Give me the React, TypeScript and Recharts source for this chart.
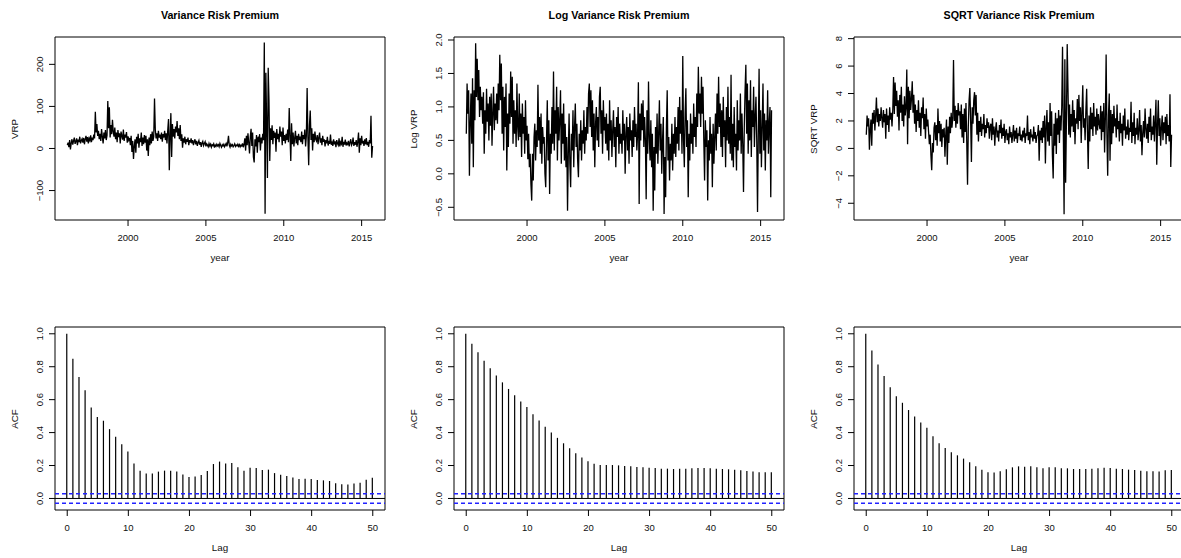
import React from 'react';
import {
  LineChart,
  Line,
  ComposedChart,
  Bar,
  XAxis,
  YAxis,
  ReferenceArea,
  ReferenceLine,
} from 'recharts';

const FONT = '"Liberation Sans", Arial, Helvetica, sans-serif';

// time axis of the series: first observation and spacing (years)
const START_YEAR = 1996.1;
const STEP_YEARS = 0.05;

// Variance Risk Premium (one row per year, 20 obs per year)
const vrpValues = [
  8, 14, 3, 20, -2, 12, 22, 9, 18, 26, 11, 17, 24, 8, 21, 15, 28, 12, 19, 23,
  14, 25, 10, 22, 30, 16, 27, 12, 24, 19, 31, 15, 26, 20, 33, 24, 87, 38, 58, 30,
  42, 22, 35, 18, 46, 28, 12, 38, 24, 44, 20, 31, 113, 48, 98, 26, 56, 34, 68, 40,
  28, 50, 22, 38, 15, 44, 27, 36, 12, 40, 30, 21, 45, 18, 33, 26, 39, 14, 29, 20,
  25, 8, 30, -8, 18, -25, 5, 22, -10, 28, 12, 35, 2, 24, 15, 38, 6, 26, 10, 32,
  14, 30, -5, 22, -18, 26, 8, 34, 12, 40, 18, 28, 119, 45, 24, 36, 18, 42, 26, 33,
  22, 38, 16, 34, 26, 42, 20, 36, 12, 44, 70, -52, 30, 84, -20, 58, 28, 46, 24, 52,
  38, 65, 30, 48, 22, 56, 18, 34, 2, 24, 14, 28, 10, 22, 16, 26, 8, 20, 14, 24,
  12, 20, 8, 16, 22, 10, 18, 6, 14, 19, 9, 15, 4, 13, 17, 7, 12, 16, 5, 11,
  8, 4, 12, 6, 10, 3, 9, 7, 11, 2, 8, 5, 10, 6, 9, 4, 12, 7, 3, 9,
  6, 10, 4, 8, 12, 5, 14, 30, 8, 3, 10, 6, 9, 4, 7, 11, 5, 8, 6, 10,
  5, 9, 4, 8, 6, 12, 3, 10, 24, -5, 30, 8, 36, 14, -12, 28, 47, 6, 38, -20,
  -33, 22, 5, 32, -10, 28, 15, 34, -5, 26, 12, 35, 20, 252, -155, 180, 60, -70, 192, 115,
  -30, 48, 20, 55, 10, 42, 25, 38, -8, 46, 22, 35, 15, 52, 28, 40, 8, 50, 18, 32,
  12, 35, 20, 45, 15, 96, 30, -30, 60, 10, 38, 5, 25, 42, 12, 30, 8, 35, 20, 28,
  15, 40, 10, 32, 22, 45, 5, 30, 144, 28, -40, 55, 90, 20, 48, -5, 35, 15, 40, 22,
  18, 32, 10, 26, 38, 14, 24, 8, 30, 16, 22, 5, 20, 12, 28, 7, 18, 11, 33, 9,
  14, 6, 22, 10, 17, 3, 20, 12, 8, 24, 5, 15, 11, 28, 4, 16, 9, 21, 7, 13,
  10, 18, 5, 14, 22, 8, 12, 26, 6, 15, 9, 20, 4, 16, 38, -10, 24, 8, 30, 12,
  18, 6, 22, 10, 25, 8, 16, 4, 20, 12, 78, -22, 6,
];

// Log Variance Risk Premium
const logVrpValues = [
  0.6, 1.35, 0.9, 1.25, -0.03, 0.75, 1.2, 0.45, 1.43, 0.1, 1.25, 0.8, 1.95, 1.15, 1.72, 1.1, 1.55, 0.85, 1.3, 0.95,
  1.15, 0.75, 1.22, 0.3, 0.95, 0.6, 1.27, 0.78, 1.05, 0.5, 1.15, 0.72, 1.2, 0.42, 0.9, 1.3, 0.65, 1.05, 0.8, 1.2,
  0.75, 1.35, 0.95, 1.78, 1.1, 1.65, 0.6, 1.3, 0.35, 1.15, 0.7, 1.35, 0.05, 0.9, 0.4, 1.2, 0.75, 1.53, 0.85, 1.45,
  0.45, 1.1, 0.6, 0.95, 0.4, 1.35, 0.7, 0.5, 1.2, 0.55, 0.9, 0.25, 1.05, 0.6, 0.85, 0.3, 1.1, 0.5, 0.72, 0.22,
  0.6, 0.1, 0.3, -0.15, -0.4, 0.3, -0.1, 0.55, 0.75, 0.2, 0.65, 0.4, 1.33, 0.5, 0.85, 0.3, 0.9, 0.15, 0.7, 0.45,
  0.55, 0.0, -0.2, 0.5, 1.1, 0.2, 0.8, -0.3, 0.6, 0.3, 1.0, 0.45, 1.53, 0.35, 0.95, 0.6, 1.3, 0.2, 1.0, 0.5,
  0.8, 1.25, 0.15, 0.9, 0.45, 1.05, 0.2, 0.75, 0.1, 0.55, -0.55, 0.3, 0.9, 0.15, -0.2, 0.6, 0.35, 0.95, 0.1, 0.7,
  1.05, 0.4, 0.75, 0.2, -0.05, 0.6, 0.35, 0.8, 0.2, 0.65, 0.45, 0.95, 0.3, 0.7, 0.5, 1.0, 0.6, 1.2, 1.35, 0.7,
  1.25, 0.55, 1.1, 0.35, 0.9, 0.1, 0.75, 1.0, 0.5, 0.85, 0.4, 1.15, 1.3, 0.6, 0.95, 0.3, 1.1, 0.65, 0.85, 0.45,
  0.9, 0.35, 0.75, 0.2, 1.1, 0.5, 0.8, 0.25, 0.65, 0.95, 0.4, 0.7, 0.1, 0.85, 0.55, 1.0, 0.3, 0.75, 0.45, 0.6,
  0.3, 0.95, 0.5, 0.75, 0.0, 0.6, 0.85, 0.35, 0.7, 0.15, 0.9, 0.5, 0.65, 0.25, 0.8, 0.4, 1.0, 0.55, 0.75, 0.35,
  0.6, 1.37, -0.45, 0.9, 0.5, 1.05, 0.65, 1.1, 0.4, 0.85, 0.5, -0.38, 0.95, 0.3, 1.38, 0.55, 0.2, 0.8, 0.1, 0.6,
  -0.55, 0.4, -0.25, 0.7, 0.3, 0.9, 0.15, 0.6, 1.1, 0.35, 0.75, 0.0, 0.5, 0.85, -0.6, 0.25, -0.35, 0.7, 1.25, 0.2,
  0.55, -0.1, 0.45, 0.2, 0.75, 0.05, 0.6, 0.3, 0.85, 0.25, 0.7, 0.45, 1.0, 0.35, 1.15, 0.6, 0.95, 0.3, 1.76, 0.5,
  0.1, 0.9, 1.28, 0.4, 0.8, -0.35, 0.6, 0.2, 0.9, 0.45, 0.75, 0.3, 1.05, 0.55, 0.85, 0.4, 1.2, 0.7, 1.6, 0.9,
  1.2, 0.7, 1.45, 0.9, 1.3, 0.5, -0.1, 0.8, 0.4, 0.65, -0.4, 0.5, 0.2, 0.85, 0.3, 0.6, -0.2, 0.75, 0.15, 0.55,
  0.9, 0.35, 1.2, 0.6, 1.45, 0.7, 1.05, 0.4, 0.95, 0.25, 1.15, 0.55, 0.8, 0.1, 1.0, 0.5, 1.3, 0.45, 0.85, 0.3,
  1.48, 0.2, 0.75, 0.1, 1.0, 0.4, 0.6, 0.05, 1.1, 0.35, 0.8, 0.5, 1.2, 0.3, 0.9, 0.45, -0.27, 0.7, 1.25, 1.63,
  0.6, 1.35, 0.3, 1.1, 0.5, 1.4, 0.25, 0.95, 0.7, 1.3, 0.4, 0.85, 1.15, 0.5, -0.57, 0.6, 1.57, 0.3, 0.95, 0.1,
  0.7, 1.35, 0.35, 0.9, 0.05, 0.8, 0.5, 1.25, 0.3, 0.75, 1.0, -0.35, 0.95,
];

// SQRT Variance Risk Premium
const sqrtVrpValues = [
  1.0, 2.4, 1.6, 2.2, -0.1, 1.4, 2.1, 0.2, 2.6, 1.8, 2.8, 1.3, 2.4, 3.7, 1.9, 2.9, 1.6, 2.5, 2.0, 3.0,
  2.2, 1.5, 2.8, 1.9, 2.5, 0.7, 2.9, 1.7, 2.4, 1.2, 3.0, 2.1, 2.6, 1.6, 2.8, 5.2, 2.5, 4.8, 3.1, 4.2,
  2.3, 3.5, 1.3, 3.9, 2.6, 4.5, 2.0, 3.2, 1.6, 3.8, 2.4, 3.0, 5.75, 0.3, 4.5, 2.2, 4.2, 2.8, 3.6, 4.9,
  2.6, 3.9, 1.8, 3.2, 1.2, 2.8, 2.0, 3.5, 1.5, 2.6, 0.9, 3.0, 2.2, 3.7, 1.4, 2.5, 0.7, 2.9, 1.6, 2.1,
  1.2, 0.3, 1.0, -0.5, -1.6, 0.4, -0.3, 1.5, 1.9, 0.6, 1.7, 0.2, 2.9, 1.1, 2.0, 0.5, 1.8, 0.1, 1.4, 0.8,
  1.5, -0.6, 1.0, 2.1, -1.2, 1.6, 0.4, 2.3, 1.1, 2.6, 1.5, 2.2, 6.45, 2.0, 3.1, 1.5, 2.8, 1.8, 3.3, 2.4,
  2.7, 1.4, 3.2, 0.8, 2.5, 0.4, 2.9, 1.2, 3.3, 0.5, -2.65, 1.6, 3.5, 4.4, 2.0, -1.0, 3.0, 1.8, 3.5, 4.1,
  2.4, 3.9, 1.0, 2.6, 0.5, 2.0, 1.2, 2.3, 0.9, 1.8, 1.4, 2.5, 0.8, 1.7, 1.1, 2.2, 1.5, 1.9, 0.7, 1.6,
  1.8, 0.6, 2.2, 1.0, 1.6, 0.2, 1.4, 1.9, 0.8, 1.3, 0.5, 1.7, 1.1, 2.1, 0.7, 1.5, 0.9, 1.8, 0.4, 1.2,
  1.4, 0.6, 1.1, 0.3, 1.6, 0.8, 1.2, 0.4, 1.0, 1.7, 0.5, 1.3, 0.7, 1.5, 0.4, 1.1, 0.9, 1.6, 0.6, 1.0,
  0.5, 1.3, 0.8, 1.5, 0.4, 1.1, 0.9, 2.4, 0.6, 1.2, 0.3, 1.4, 0.8, 1.0, 0.5, 1.6, 0.7, 1.2, 0.4, 0.9,
  1.0, 1.7, -0.9, 1.3, 0.6, 1.5, 0.4, 2.0, 0.8, 2.4, -1.1, 1.6, 2.8, 0.5, 1.9, 0.2, 3.3, 0.9, 2.7, -0.5,
  -2.2, 1.8, 0.2, 2.6, -0.4, 2.2, 1.0, 2.8, 0.4, 2.4, 1.3, 3.0, 7.4, 1.5, -4.8, 6.5, -2.5, 2.0, 7.6, 4.4,
  1.0, 3.2, 0.8, 2.5, 1.6, 3.5, 1.2, 2.8, 0.3, 2.2, 1.8, 3.6, 1.4, 3.9, 2.0, 3.0, 0.4, 2.6, 4.6, 1.5,
  2.2, 0.6, 2.8, 4.35, 1.2, -1.5, 2.4, 0.5, 3.0, 1.4, 2.6, 0.9, 3.3, 1.6, 2.3, 1.0, 2.9, 1.3, 2.5, 1.8,
  1.4, 3.1, 0.6, 2.7, 1.2, 3.3, -0.3, 2.2, 6.85, 1.0, -2.0, 2.4, 4.0, -0.9, 2.8, 0.3, 2.5, 1.1, 3.1, 1.6,
  2.2, 0.8, 3.2, 1.4, 2.0, 0.5, 2.6, 1.1, 1.8, 0.2, 2.4, 1.3, 2.9, 0.7, 1.6, 1.0, 2.1, 0.6, 1.5, 1.2,
  3.4, 0.4, 1.9, 0.9, 2.6, 0.3, 1.5, 1.0, 2.2, 0.6, 1.3, 2.8, 0.5, 1.7, -0.5, 1.1, 2.0, 0.8, 2.9, 1.4,
  0.7, 1.8, 0.4, 2.3, 1.2, 2.9, 0.6, 1.6, 1.0, 2.4, 0.5, 2.0, 3.55, -1.2, 1.7, 3.5, 0.9, 2.2, 0.2, 1.5,
  2.4, 0.6, 1.9, 1.1, 2.3, 0.3, 2.5, 0.9, 1.7, 0.5, 3.95, -1.35, 1.0,
];

// Autocorrelations, lags 0..50
const acfVrp = [
  1.0, 0.848, 0.738, 0.657, 0.553, 0.494, 0.472, 0.421, 0.374, 0.329, 0.285,
  0.213, 0.169, 0.152, 0.152, 0.163, 0.169, 0.169, 0.163, 0.146, 0.13,
  0.134, 0.142, 0.167, 0.209, 0.224, 0.213, 0.215, 0.189, 0.169, 0.187,
  0.185, 0.173, 0.175, 0.154, 0.144, 0.136, 0.128, 0.118, 0.12, 0.118,
  0.112, 0.11, 0.106, 0.093, 0.087, 0.085, 0.091, 0.096, 0.114, 0.126,
];
const acfLogVrp = [
  1.0, 0.939, 0.888, 0.837, 0.791, 0.746, 0.705, 0.665, 0.626, 0.589, 0.555,
  0.512, 0.474, 0.435, 0.4, 0.368, 0.335, 0.305, 0.274, 0.248, 0.226,
  0.211, 0.203, 0.203, 0.203, 0.201, 0.197, 0.195, 0.191, 0.189, 0.187,
  0.185, 0.181, 0.181, 0.179, 0.181, 0.181, 0.183, 0.185, 0.185, 0.183,
  0.181, 0.179, 0.177, 0.175, 0.171, 0.167, 0.163, 0.159, 0.159, 0.159,
];
const acfSqrtVrp = [
  1.0, 0.898, 0.813, 0.744, 0.675, 0.62, 0.581, 0.537, 0.498, 0.461, 0.429,
  0.378, 0.335, 0.307, 0.28, 0.262, 0.242, 0.22, 0.195, 0.175, 0.159,
  0.157, 0.165, 0.177, 0.189, 0.195, 0.193, 0.195, 0.189, 0.183, 0.189,
  0.189, 0.183, 0.183, 0.179, 0.179, 0.179, 0.181, 0.183, 0.187, 0.185,
  0.181, 0.179, 0.175, 0.173, 0.169, 0.165, 0.165, 0.163, 0.171, 0.173,
];
const ACF_CONF = 0.0289;

// tick labels
const yearTicks = [2000, 2005, 2010, 2015];
const lagTicks = [0, 10, 20, 30, 40, 50];
const acfTicks = [0, 0.2, 0.4, 0.6, 0.8, 1.0];
const vrpTicks = [-100, 0, 100, 200];
const logVrpTicks = [-0.5, 0, 0.5, 1.0, 1.5, 2.0];
const sqrtVrpTicks = [-4, -2, 0, 2, 4, 6, 8];

// layout
const BOX_W = 330;
const BOX_H = 183;
const AX_LEFT = 55;
const AX_BOTTOM = 60;
const TOP_MARGIN = 37;
const CHART_W = AX_LEFT + BOX_W + 6;
const CHART_H = TOP_MARGIN + BOX_H + AX_BOTTOM;
const PANEL_LEFTS = [55, 454, 854];
const ROW_TOPS = [0, 290];
const YEAR_DOMAIN: [number, number] = [1995.31, 2016.5];
const LAG_DOMAIN: [number, number] = [-2, 52];
const ACF_DOMAIN: [number, number] = [-0.0701, 1.0412];

const fmt = (v: number, d: number) => (v < 0 ? '\u2212' : '') + Math.abs(v).toFixed(d);

const makeXTick = (d: number) => (p: any) => (
  <text x={p.x} y={p.y} dy="0.35em" textAnchor="middle" fontSize={9.5} fontFamily={FONT} fill="#111">
    {fmt(p.payload.value, d)}
  </text>
);
const makeYTick = (d: number) => (p: any) => (
  <text
    x={p.x}
    y={p.y}
    dy="0.35em"
    textAnchor="middle"
    transform={`rotate(-90 ${p.x} ${p.y})`}
    fontSize={9.5}
    fontFamily={FONT}
    fill="#111"
  >
    {fmt(p.payload.value, d)}
  </text>
);

function Titles({ left, top, title, xlab, ylab }: any) {
  return (
    <>
      {title && (
        <div
          style={{
            position: 'absolute',
            left,
            top: top + 9,
            width: BOX_W,
            textAlign: 'center',
            fontFamily: FONT,
            fontWeight: 'bold',
            fontSize: 10.7,
            lineHeight: '12px',
            color: '#000',
            whiteSpace: 'nowrap',
          }}
        >
          {title}
        </div>
      )}
      <div
        style={{
          position: 'absolute',
          left,
          top: top + TOP_MARGIN + BOX_H + 41.5 - 10,
          width: BOX_W,
          textAlign: 'center',
          fontFamily: FONT,
          fontSize: 9.8,
          lineHeight: '12px',
          color: '#111',
        }}
      >
        {xlab}
      </div>
      <div
        style={{
          position: 'absolute',
          left: left - 40 - 100,
          top: top + TOP_MARGIN + BOX_H / 2 - 6,
          width: 200,
          height: 12,
          textAlign: 'center',
          fontFamily: FONT,
          fontSize: 9.8,
          lineHeight: '12px',
          color: '#111',
          transform: 'rotate(-90deg)',
          whiteSpace: 'nowrap',
        }}
      >
        {ylab}
      </div>
    </>
  );
}

function SeriesPanel({ left, top, title, ylab, values, domain, ticks, decimals }: any) {
  const data = values.map((v: number, i: number) => ({ t: START_YEAR + i * STEP_YEARS, v }));
  return (
    <>
      <div style={{ position: 'absolute', left: left - AX_LEFT, top }}>
        <LineChart
          width={CHART_W}
          height={CHART_H}
          data={data}
          margin={{ top: TOP_MARGIN, right: CHART_W - AX_LEFT - BOX_W, bottom: 0, left: 0 }}
        >
          <XAxis
            dataKey="t"
            type="number"
            domain={YEAR_DOMAIN}
            allowDataOverflow
            ticks={yearTicks}
            interval={0}
            height={AX_BOTTOM}
            axisLine={false}
            tickLine={{ stroke: '#000' }}
            tickSize={6}
            tickMargin={11.5}
            tick={makeXTick(0)}
          />
          <YAxis
            type="number"
            domain={domain}
            allowDataOverflow
            ticks={ticks}
            interval={0}
            width={AX_LEFT}
            axisLine={false}
            tickLine={{ stroke: '#000' }}
            tickSize={6}
            tickMargin={9}
            tick={makeYTick(decimals)}
          />
          <ReferenceArea
            x1={YEAR_DOMAIN[0]}
            x2={YEAR_DOMAIN[1]}
            y1={domain[0]}
            y2={domain[1]}
            fill="none"
            stroke="#000"
            strokeWidth={1}
            ifOverflow="visible"
          />
          <Line
            dataKey="v"
            type="linear"
            stroke="#000"
            strokeWidth={1.3}
            dot={false}
            isAnimationActive={false}
          />
        </LineChart>
      </div>
      <Titles left={left} top={top} title={title} xlab="year" ylab={ylab} />
    </>
  );
}

function AcfPanel({ left, top, values }: any) {
  const data = values.map((acf: number, lag: number) => ({ lag, acf }));
  return (
    <>
      <div style={{ position: 'absolute', left: left - AX_LEFT, top }}>
        <ComposedChart
          width={CHART_W}
          height={CHART_H}
          data={data}
          margin={{ top: TOP_MARGIN, right: CHART_W - AX_LEFT - BOX_W, bottom: 0, left: 0 }}
        >
          <XAxis
            dataKey="lag"
            type="number"
            domain={LAG_DOMAIN}
            allowDataOverflow
            ticks={lagTicks}
            interval={0}
            height={AX_BOTTOM}
            axisLine={false}
            tickLine={{ stroke: '#000' }}
            tickSize={6}
            tickMargin={11.5}
            tick={makeXTick(0)}
          />
          <YAxis
            type="number"
            domain={ACF_DOMAIN}
            allowDataOverflow
            ticks={acfTicks}
            interval={0}
            width={AX_LEFT}
            axisLine={false}
            tickLine={{ stroke: '#000' }}
            tickSize={6}
            tickMargin={9}
            tick={makeYTick(1)}
          />
          <ReferenceArea
            x1={LAG_DOMAIN[0]}
            x2={LAG_DOMAIN[1]}
            y1={ACF_DOMAIN[0]}
            y2={ACF_DOMAIN[1]}
            fill="none"
            stroke="#000"
            strokeWidth={1}
            ifOverflow="visible"
          />
          <Bar dataKey="acf" fill="#000" barSize={1.2} isAnimationActive={false} />
          <ReferenceLine y={0} stroke="#000" strokeWidth={1} />
          <ReferenceLine y={ACF_CONF} stroke="#2222ff" strokeWidth={1.4} strokeDasharray="4 3" />
          <ReferenceLine y={-ACF_CONF} stroke="#2222ff" strokeWidth={1.4} strokeDasharray="4 3" />
        </ComposedChart>
      </div>
      <Titles left={left} top={top} title={null} xlab="Lag" ylab="ACF" />
    </>
  );
}

export default function App() {
  return (
    <div
      style={{
        position: 'absolute',
        left: 0,
        top: 0,
        width: 1181,
        height: 558,
        overflow: 'hidden',
        background: '#fff',
      }}
    >
      <SeriesPanel
        left={PANEL_LEFTS[0]}
        top={ROW_TOPS[0]}
        title="Variance Risk Premium"
        ylab="VRP"
        values={vrpValues}
        domain={[-170, 265]}
        ticks={vrpTicks}
        decimals={0}
      />
      <SeriesPanel
        left={PANEL_LEFTS[1]}
        top={ROW_TOPS[0]}
        title="Log Variance Risk Premium"
        ylab="Log VRP"
        values={logVrpValues}
        domain={[-0.69, 2.045]}
        ticks={logVrpTicks}
        decimals={1}
      />
      <SeriesPanel
        left={PANEL_LEFTS[2]}
        top={ROW_TOPS[0]}
        title="SQRT Variance Risk Premium"
        ylab="SQRT VRP"
        values={sqrtVrpValues}
        domain={[-5.22, 8.12]}
        ticks={sqrtVrpTicks}
        decimals={0}
      />
      <AcfPanel left={PANEL_LEFTS[0]} top={ROW_TOPS[1]} values={acfVrp} />
      <AcfPanel left={PANEL_LEFTS[1]} top={ROW_TOPS[1]} values={acfLogVrp} />
      <AcfPanel left={PANEL_LEFTS[2]} top={ROW_TOPS[1]} values={acfSqrtVrp} />
    </div>
  );
}
